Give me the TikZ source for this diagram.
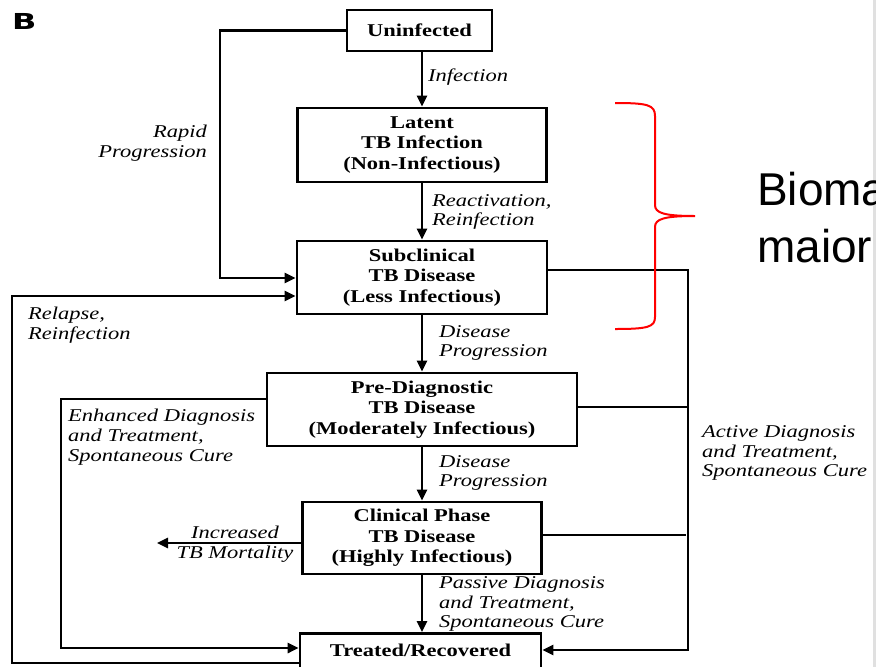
\documentclass[tikz,border=0pt]{standalone}
\usepackage{fontspec}
\setmainfont{Liberation Serif}[FakeStretch=1.25]
\newfontfamily\letterfont{DejaVu Sans}[FakeStretch=1.45]
\newfontfamily\biofont{Liberation Sans}
\usetikzlibrary{arrows.meta}
\begin{document}
\begin{tikzpicture}[x=1pt,y=-1pt,
  stagebox/.style={draw, line width=2.6pt, align=center, inner sep=0pt, font=\fontsize{18}{20.5}\selectfont\bfseries},
  lbl/.style={inner sep=0pt, align=left, font=\fontsize{18}{19.7}\selectfont\itshape},
  conn/.style={line width=2.5pt},
  arr/.style={conn, -{Triangle[length=11pt,width=10pt]}},
  bracepen/.style={draw=red, line width=2pt}
]
\useasboundingbox (0,0) rectangle (876,667);
\clip (0,0) rectangle (876,667);
\fill[black!12] (873,0) rectangle (876,667);

% panel letter
\node[anchor=base west, inner sep=0pt, font=\letterfont\bfseries\fontsize{22}{24}\selectfont] (panel) at (12,29) {B};

% stages
\node[stagebox, minimum width=145pt, minimum height=41pt] (unin) at (419.5,30.5) {Uninfected};
\node[stagebox, minimum width=249pt, minimum height=74pt] (latent) at (422,145) {Latent\\TB Infection\\(Non-Infectious)};
\node[stagebox, minimum width=250pt, minimum height=73pt] (sub) at (422,277.5) {Subclinical\\TB Disease\\(Less Infectious)};
\node[stagebox, minimum width=310pt, minimum height=73pt] (pre) at (422,409.5) {Pre-Diagnostic\\TB Disease\\(Moderately Infectious)};
\node[stagebox, minimum width=239pt, minimum height=72pt] (clin) at (422,538) {Clinical Phase\\TB Disease\\(Highly Infectious)};
\node[stagebox, minimum width=241pt, text height=23pt, text depth=40pt, anchor=north] (treated) at (420.5,632) {Treated/Recovered};

% main vertical flow
\draw[arr] (unin.south -| latent.north) -- (latent.north);
\draw[arr] (latent.south) -- (sub.north);
\draw[arr] (sub.south) -- (pre.north);
\draw[arr] (pre.south) -- (clin.north);
\draw[arr] (clin.south) -- (treated.north -| clin.south);

% left connectors
\coordinate (rp1) at (220,30.5);
\coordinate (rp2) at (220,278);
\draw[arr] (unin.west) -- (rp1) -- (rp2) -- (sub.west |- rp2);

\coordinate (rl1) at (12,663);
\coordinate (rl2) at (12,296);
\draw[arr] (treated.west |- rl1) -- (rl1) -- (rl2) -- (sub.west |- rl2);

\coordinate (en1) at (61,399);
\coordinate (en2) at (61,648);
\draw[arr] (pre.west |- en1) -- (en1) -- (en2) -- (treated.west |- en2);

\coordinate (mort) at (157,543);
\draw[arr] (clin.west |- mort) -- (mort);

% right connectors
\coordinate (rt) at (688,270);
\coordinate (rb) at (688,650);
\draw[arr] (sub.east |- rt) -- (rt) -- (rb) -- (treated.east |- rb);
\coordinate (rm) at (688,407);
\draw[conn] (pre.east |- rm) -- (rm);
\coordinate (rc) at (686,535);
\draw[conn] (clin.east |- rc) -- (rc);

% labels
\node[lbl, anchor=west] (linf) at (428,77) {Infection};
\node[lbl, anchor=west] (lreact) at (432,212) {Reactivation,\\Reinfection};
\node[lbl, anchor=west] (lprog1) at (439,343) {Disease\\Progression};
\node[lbl, anchor=west] (lprog2) at (439,473) {Disease\\Progression};
\node[lbl, anchor=west] (lpass) at (439,604) {Passive Diagnosis\\and Treatment,\\Spontaneous Cure};
\node[lbl, anchor=east, align=right] (lrapid) at (207,143) {Rapid\\Progression};
\node[lbl, anchor=west] (lrel) at (28,325) {Relapse,\\Reinfection};
\node[lbl, anchor=west] (lenh) at (68,437) {Enhanced Diagnosis\\and Treatment,\\Spontaneous Cure};
\node[lbl, anchor=west] (lact) at (702,453) {Active Diagnosis\\and Treatment,\\Spontaneous Cure};
\node[lbl, align=center] (lmort) at (235,544) {Increased\\TB Mortality};

% red brace
\draw[bracepen] (615,103) .. controls (648,103) and (655,105) .. (655,116)
  -- (655,205) .. controls (655,213) and (664,216) .. (695,216)
  .. controls (664,216) and (655,219) .. (655,227)
  -- (655,317) .. controls (655,327) and (648,329) .. (615,329);

% overlay text
\node[anchor=base west, inner sep=0pt, font=\biofont\fontsize{46}{50}\selectfont] (bio1) at (757,205) {Bioma};
\node[anchor=base west, inner sep=0pt, font=\biofont\fontsize{46}{50}\selectfont] (bio2) at (757,262) {maior};
\end{tikzpicture}
\end{document}
